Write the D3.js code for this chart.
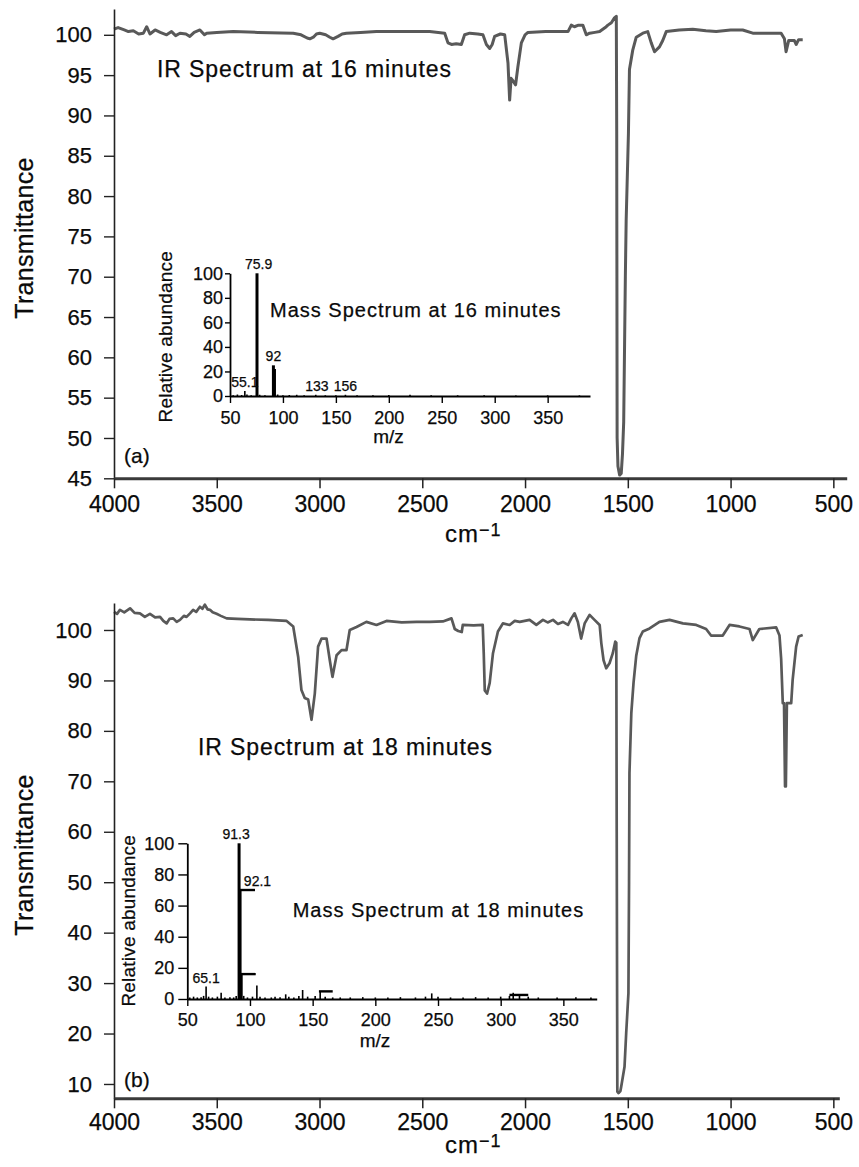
<!DOCTYPE html>
<html>
<head>
<meta charset="utf-8">
<script src="https://cdn.jsdelivr.net/npm/d3@7"></script>
<style>
  body { margin: 0; background: #fff; }
  text { font-family: "Liberation Sans", Arial, Helvetica, sans-serif; fill: #0a0a0a; stroke: #0a0a0a; stroke-width: 0.25px; }
</style>
</head>
<body>
<svg id="c" width="859" height="1167"></svg>
<script>
// ---------------- DATA ----------------
const irTicksX = [4000, 3500, 3000, 2500, 2000, 1500, 1000, 500];
const irTicksY16 = [45, 50, 55, 60, 65, 70, 75, 80, 85, 90, 95, 100];
const irTicksY18 = [10, 20, 30, 40, 50, 60, 70, 80, 90, 100];
const msTicksX = [50, 100, 150, 200, 250, 300, 350];
const msTicksY = [0, 20, 40, 60, 80, 100];

// IR spectrum at 16 minutes: [wavenumber cm-1, transmittance]
const ir16 = [[4000,100.7],[3980,100.9],[3950,100.6],[3930,100.4],[3906,100.5],[3880,100.1],[3857,100.2],[3841,101],[3825,100.1],[3800,100.6],[3775,100.3],[3744,100],[3720,100.4],[3700,99.9],[3679,100.2],[3650,100.1],[3631,99.8],[3610,100.3],[3582,100.6],[3560,100],[3549,100.2],[3500,100.3],[3420,100.4],[3300,100.3],[3128,100.2],[3090,100],[3060,99.6],[3047,99.5],[3030,99.7],[3015,100.1],[2999,100.2],[2970,100],[2950,99.7],[2934,99.5],[2910,99.8],[2890,100.1],[2869,100.2],[2800,100.3],[2723,100.4],[2600,100.4],[2464,100.4],[2391,100.2],[2375,99],[2358,98.8],[2335,98.9],[2310,98.8],[2294,100],[2269,100.2],[2230,100.1],[2205,100],[2188,98.8],[2172,98.3],[2160,98.8],[2148,99.8],[2120,100.1],[2099,100],[2083,96.5],[2075,91.9],[2068,94.6],[2062,94.4],[2046,93.8],[2035,96],[2018,99],[2000,100],[1986,100.3],[1900,100.4],[1791,100.4],[1775,101.2],[1760,101],[1740,101.2],[1719,101.2],[1702,100],[1686,100.2],[1660,100.3],[1637,100.4],[1610,100.9],[1597,101.2],[1580,101.5],[1565,102.1],[1556,102.3],[1554,88],[1552,50],[1548,46.5],[1540,45.4],[1532,45.6],[1526,48],[1520,52],[1512,70],[1508,77],[1497,87.8],[1492,95.7],[1476,98.1],[1459,99.7],[1427,100.2],[1403,100.4],[1386,99],[1370,97.9],[1346,98.5],[1330,99.3],[1313,100.4],[1250,100.6],[1184,100.7],[1120,100.5],[1070,100.4],[1000,100.6],[941,100.6],[892,100.2],[800,100.2],[754,100.2],[738,99.5],[730,97.9],[717,99.3],[690,99.3],[681,98.8],[669,99.4],[649,99.4]];

// IR spectrum at 18 minutes
const ir18 = [[4000,103.6],[3985,103.2],[3971,104],[3950,103.5],[3922,104.3],[3900,103.4],[3874,103.3],[3850,102.6],[3825,103.2],[3800,102.5],[3776,102.6],[3760,101.8],[3744,101.3],[3730,102.2],[3712,102.3],[3695,101.6],[3679,102],[3660,102.8],[3647,102.6],[3630,103.3],[3615,104],[3600,103.6],[3582,104.6],[3570,104.2],[3558,105],[3545,104.1],[3533,104],[3520,103.5],[3501,103.2],[3480,102.8],[3452,102.3],[3400,102.2],[3339,102.1],[3250,102.0],[3160,101.8],[3128,100.7],[3104,94.7],[3088,88.1],[3072,86.5],[3055,86.2],[3039,82.2],[3023,87.4],[3007,96.7],[2990,98.3],[2966,98.3],[2950,94],[2937,90.7],[2917,95],[2893,96],[2869,96],[2853,100],[2820,100.6],[2772,101.6],[2723,101],[2674,101.8],[2600,101.5],[2528,101.6],[2464,101.6],[2400,101.7],[2358,102.3],[2342,100.2],[2325,99.8],[2308,99.6],[2303,101],[2250,100.9],[2206,101],[2201,95.4],[2196,88],[2185,87.4],[2172,89.5],[2156,95.4],[2132,99.7],[2108,101.3],[2075,101],[2050,101.8],[2026,101.6],[1978,102],[1945,101],[1913,102],[1890,101.5],[1864,102],[1840,101.2],[1816,101.6],[1791,101],[1775,102.3],[1759,103.3],[1743,101.6],[1727,98.3],[1710,101.3],[1686,103],[1662,102],[1637,101],[1629,97.4],[1618,94],[1605,92.4],[1589,93.4],[1573,95.4],[1561,97.7],[1556,97.5],[1554,60],[1551,8.5],[1545,8.2],[1536,8.6],[1532,9.5],[1516,13.4],[1508,20],[1497,28],[1494,50],[1492,71.6],[1483,83.5],[1472,89.6],[1459,94.9],[1443,98.4],[1427,99.7],[1394,100.3],[1346,101.6],[1297,102],[1232,101.3],[1167,101],[1119,100.2],[1095,98.9],[1038,98.9],[1005,101],[957,100.7],[908,100.2],[892,98],[860,100.2],[778,100.5],[762,98.9],[754,94.3],[746,85.5],[740,85.5],[735,69],[731,69],[726,85.5],[717,85.5],[705,85.5],[698,90.1],[681,96.7],[669,98.7],[649,99]];

// Mass spectrum at 16 minutes: [m/z, relative abundance]
const ms16 = [[53,0.6],[57,1.2],[61,0.8],[64,4],[66,1.2],[70,0.6],[75.5,100],[78,1],[83,0.6],[91,25],[92,22],[95,1.2],[100,0.6],[106,0.8],[113,1],[120,0.6],[131,1],[140,0.6],[150,0.6],[159,1],[170,0.6],[185,0.6],[200,0.8],[220,1],[240,0.6],[265,0.6],[290,0.6],[320,0.5],[350,0.5],[380,0.5]];
const ms16Labels = [["55.1", 64, 4], ["75.9", 77, 100], ["92", 91, 25], ["133", 132, 1], ["156", 159, 1]];

// Mass spectrum at 18 minutes
const ms18 = [[52,1],[55,1.5],[58,1],[61,1.2],[63,2],[65,8],[67,1.5],[70,1],[74,1.5],[77,4],[80,1],[84,1.2],[87,1],[89,2],[91.3,100],[92.1,70],[93,16],[95,2],[98,1],[102,1.5],[105.5,8.6],[108,1.5],[112,1],[117,1],[120,1.5],[124,1.2],[128.5,3],[131,1.5],[135,1],[139,2],[142,5.8],[146,1.5],[152,2],[156,4.9],[160,1.5],[166,1],[172,1],[180,1],[190,1.2],[200,1],[210,1],[220,1.2],[232,1],[240,1.5],[245,3.6],[250,1.5],[260,1],[270,1],[280,1.2],[290,1],[300,1.5],[307,2],[310,4],[315,2.6],[322,1.5],[330,1],[345,1],[360,1.2],[372,1]];
const ms18Ledges = [[92, 104, 70], [92, 104.6, 16], [155, 166, 4.9], [307, 322, 2.6]];
const ms18Labels = [["65.1", 65, 8], ["91.3", 89, 100], ["92.1", 106, 70]];

// ---------------- DRAW ----------------
const svg = d3.select("#c");
const FONT = '"Liberation Sans", Arial, Helvetica, sans-serif';

function irPanel(cfg) {
  const x = d3.scaleLinear().domain(cfg.xDomain).range([114, cfg.xRight]);
  const y = d3.scaleLinear().domain(cfg.yDomain).range([cfg.yBottom, cfg.yTop]);
  const g = svg.append("g");

  g.append("path")
    .datum(cfg.data)
    .attr("fill", "none")
    .attr("stroke", "#595959")
    .attr("stroke-width", cfg.lineWidth)
    .attr("stroke-linejoin", "round")
    .attr("d", d3.line().x(d => x(d[0])).y(d => y(d[1])));

  const ya = g.append("g").attr("transform", "translate(114,0)")
    .call(d3.axisLeft(y).tickValues(cfg.yTicks).tickSize(10).tickPadding(12).tickSizeOuter(0).tickFormat(d3.format("d")));
  ya.select(".domain").attr("stroke", "#222").attr("stroke-width", 1.6);
  ya.selectAll(".tick line").attr("stroke", "#222").attr("stroke-width", 1.4);
  ya.selectAll(".tick text").attr("font-size", 22).attr("font-family", FONT).attr("fill", "#0a0a0a");

  const xa = g.append("g").attr("transform", `translate(0,${cfg.yBottom})`)
    .call(d3.axisBottom(x).tickValues(irTicksX).tickSize(10).tickSizeOuter(0).tickFormat(d3.format("d")));
  xa.select(".domain").attr("stroke", "#3a3a3a").attr("stroke-width", 3);
  xa.selectAll(".tick line").attr("stroke", "#222").attr("stroke-width", 1.5);
  xa.selectAll(".tick text").attr("y", cfg.xLabelOffset).attr("dy", 0)
    .attr("font-size", 23).attr("font-family", FONT).attr("fill", "#0a0a0a");

  g.append("text")
    .attr("transform", `translate(33,${cfg.yTitleCenter}) rotate(-90)`)
    .attr("text-anchor", "middle").attr("font-size", 25).attr("letter-spacing", 0.3)
    .text("Transmittance");

  const cm = g.append("text").attr("x", 445).attr("y", cfg.cmBase).attr("font-size", 24).attr("letter-spacing", 1);
  cm.append("tspan").text("cm");
  cm.append("tspan").attr("dy", -6).attr("font-size", 18).text("\u22121");

  g.append("text").attr("x", cfg.titleX).attr("y", cfg.titleBase)
    .attr("font-size", 23).attr("letter-spacing", 0.9).text(cfg.title);
  g.append("text").attr("x", 124).attr("y", cfg.letterBase)
    .attr("font-size", 21).text(cfg.letter);
}

function msPanel(cfg) {
  const x = d3.scaleLinear().domain([50, cfg.xMax]).range([cfg.x0, cfg.x1]);
  const y = d3.scaleLinear().domain([0, 100]).range([cfg.y0, cfg.y100]);
  const g = svg.append("g");

  g.selectAll("line.peak").data(cfg.peaks).join("line")
    .attr("class", "peak")
    .attr("x1", d => x(d[0])).attr("x2", d => x(d[0]))
    .attr("y1", y(0)).attr("y2", d => y(d[1]))
    .attr("stroke", "#000")
    .attr("stroke-width", d => d[1] >= 10 ? 3 : 1.6);

  g.selectAll("line.ledge").data(cfg.ledges || []).join("line")
    .attr("class", "ledge")
    .attr("x1", d => x(d[0])).attr("x2", d => x(d[1]))
    .attr("y1", d => y(d[2])).attr("y2", d => y(d[2]))
    .attr("stroke", "#000").attr("stroke-width", 2.4);

  const ya = g.append("g").attr("transform", `translate(${cfg.x0},0)`)
    .call(d3.axisLeft(y).tickValues(msTicksY).tickSize(cfg.yTickSize).tickPadding(cfg.yTickPad).tickSizeOuter(0));
  ya.select(".domain").attr("stroke", "#000").attr("stroke-width", 1.8);
  ya.selectAll(".tick line").attr("stroke", "#000").attr("stroke-width", 1.4);
  ya.selectAll(".tick text").attr("font-size", 18).attr("font-family", FONT).attr("fill", "#0a0a0a");

  const xa = g.append("g").attr("transform", `translate(0,${cfg.y0})`)
    .call(d3.axisBottom(x).tickValues(msTicksX).tickSize(7).tickSizeOuter(0));
  xa.select(".domain").attr("stroke", "#000").attr("stroke-width", 2);
  xa.selectAll(".tick line").attr("stroke", "#000").attr("stroke-width", 1.4);
  xa.selectAll(".tick text").attr("y", cfg.xLabelOffset).attr("dy", 0)
    .attr("font-size", 18).attr("font-family", FONT).attr("fill", "#0a0a0a");

  g.selectAll("text.pl").data(cfg.labels).join("text")
    .attr("class", "pl")
    .attr("x", d => x(d[1])).attr("y", d => y(d[2]) - 4)
    .attr("text-anchor", "middle").attr("font-size", 14)
    .text(d => d[0]);

  g.append("text").attr("x", cfg.mzX).attr("y", cfg.mzBase)
    .attr("text-anchor", "middle").attr("font-size", 19).text("m/z");
  g.append("text")
    .attr("transform", `translate(${cfg.raX},${cfg.raY}) rotate(-90)`)
    .attr("text-anchor", "middle").attr("font-size", 19).attr("letter-spacing", 0.2)
    .text("Relative abundance");
  g.append("text").attr("x", cfg.titleX).attr("y", cfg.titleBase)
    .attr("font-size", 20).attr("letter-spacing", 1).text(cfg.title);
}

irPanel({
  data: ir16, xDomain: [4000, 435], xRight: 846.7,
  yDomain: [45, 103.2], yBottom: 478.3, yTop: 9, yTicks: irTicksY16,
  xLabelOffset: 33.5, cmBase: 542, yTitleCenter: 238, lineWidth: 3,
  title: "IR Spectrum at 16 minutes", titleX: 157, titleBase: 77,
  letter: "(a)", letterBase: 463
});

irPanel({
  data: ir18, xDomain: [4000, 471], xRight: 839.3,
  yDomain: [7.16, 105.35], yBottom: 1098.3, yTop: 603, yTicks: irTicksY18,
  xLabelOffset: 31.7, cmBase: 1153, yTitleCenter: 855, lineWidth: 2.7,
  title: "IR Spectrum at 18 minutes", titleX: 198, titleBase: 755,
  letter: "(b)", letterBase: 1087
});

msPanel({
  peaks: ms16, labels: ms16Labels, xMax: 390,
  x0: 230, x1: 590, y0: 396, y100: 273.3,
  yTickSize: 5, yTickPad: 2, xLabelOffset: 28.3,
  mzX: 388.5, mzBase: 443.3, raX: 171.5, raY: 336.7,
  title: "Mass Spectrum at 16 minutes", titleX: 270, titleBase: 316.7
});

msPanel({
  peaks: ms18, ledges: ms18Ledges, labels: ms18Labels, xMax: 376.6,
  x0: 187.3, x1: 596.7, y0: 999, y100: 843.3,
  yTickSize: 9, yTickPad: 4, xLabelOffset: 27,
  mzX: 375, mzBase: 1046.7, raX: 135, raY: 920.8,
  title: "Mass Spectrum at 18 minutes", titleX: 292.7, titleBase: 916.7
});
</script>
</body>
</html>
